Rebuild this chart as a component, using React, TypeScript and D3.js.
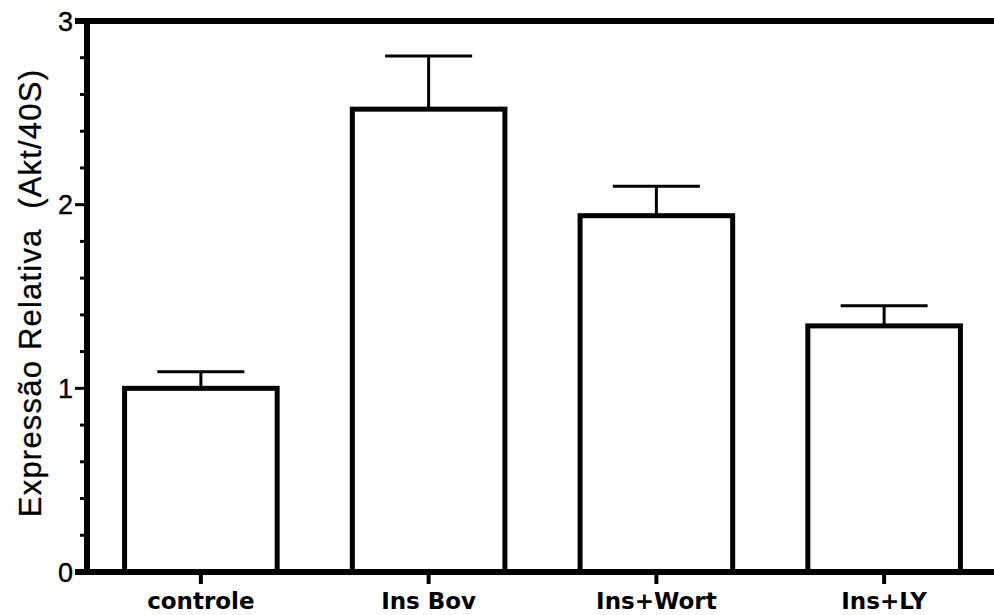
import * as d3 from 'd3'
import { useEffect, useRef } from 'react'

const groups = ['controle', 'Ins Bov', 'Ins+Wort', 'Ins+LY']
const means = [1.0, 2.52, 1.94, 1.34]
const errors = [0.09, 0.29, 0.16, 0.11]
const yTicks = [0, 1, 2, 3]

const App = () => {
  const svgRef = useRef<SVGSVGElement>(null)

  useEffect(() => {
    const width = 994
    const height = 615
    const margin = { top: 21, right: -4, bottom: 43, left: 87 }

    const svg = d3.select(svgRef.current)
    svg.selectAll('*').remove()

    const x = d3.scaleBand()
      .domain(groups)
      .range([margin.left, width - margin.right])
      .paddingInner(0.33)
      .paddingOuter(0.165)

    const y = d3.scaleLinear()
      .domain([0, 3])
      .range([height - margin.bottom, margin.top])

    const font = 'Arial, "Liberation Sans", sans-serif'

    // top frame line
    svg.append('line')
      .attr('x1', margin.left - 12).attr('x2', width)
      .attr('y1', y(3)).attr('y2', y(3))
      .attr('stroke', '#000').attr('stroke-width', 6)

    // bars
    const data = groups.map((g, i) => ({ g, m: means[i], e: errors[i] }))
    const capW = x.bandwidth() * 0.57

    svg.selectAll('.err')
      .data(data)
      .join('line')
      .attr('class', 'err')
      .attr('x1', d => x(d.g)! + x.bandwidth() / 2)
      .attr('x2', d => x(d.g)! + x.bandwidth() / 2)
      .attr('y1', d => y(d.m))
      .attr('y2', d => y(d.m + d.e))
      .attr('stroke', '#000').attr('stroke-width', 3)

    svg.selectAll('.cap')
      .data(data)
      .join('line')
      .attr('class', 'cap')
      .attr('x1', d => x(d.g)! + x.bandwidth() / 2 - capW / 2)
      .attr('x2', d => x(d.g)! + x.bandwidth() / 2 + capW / 2)
      .attr('y1', d => y(d.m + d.e))
      .attr('y2', d => y(d.m + d.e))
      .attr('stroke', '#000').attr('stroke-width', 3)

    svg.selectAll('.bar')
      .data(data)
      .join('rect')
      .attr('class', 'bar')
      .attr('x', d => x(d.g)!)
      .attr('y', d => y(d.m))
      .attr('width', x.bandwidth())
      .attr('height', d => y(0) - y(d.m))
      .attr('fill', '#fff')
      .attr('stroke', '#000')
      .attr('stroke-width', 5)

    // y axis
    const yAxis = svg.append('g')
    yAxis.append('line')
      .attr('x1', margin.left).attr('x2', margin.left)
      .attr('y1', y(3) - 3).attr('y2', y(0) + 3)
      .attr('stroke', '#000').attr('stroke-width', 6)

    const minor = d3.range(0, 3.001, 0.2).filter(v => Math.abs(v - Math.round(v)) > 0.01)
    yAxis.selectAll('.minor')
      .data(minor)
      .join('line')
      .attr('x1', margin.left - 7).attr('x2', margin.left)
      .attr('y1', d => y(d)).attr('y2', d => y(d))
      .attr('stroke', '#000').attr('stroke-width', 3)

    yAxis.selectAll('.major')
      .data(yTicks)
      .join('line')
      .attr('x1', margin.left - 12).attr('x2', margin.left)
      .attr('y1', d => y(d)).attr('y2', d => y(d))
      .attr('stroke', '#000').attr('stroke-width', 3)

    yAxis.selectAll('text')
      .data(yTicks)
      .join('text')
      .attr('x', margin.left - 14)
      .attr('y', d => y(d))
      .attr('dy', '0.36em')
      .attr('text-anchor', 'end')
      .attr('font-family', font)
      .attr('font-size', 27)
      .attr('stroke', '#000').attr('stroke-width', 0.4)
      .text(d => d)

    svg.append('text')
      .attr('transform', `translate(41, 293) rotate(-90)`)
      .attr('text-anchor', 'middle')
      .attr('font-family', font)
      .attr('font-size', 31)
      .attr('letter-spacing', 1.2)
      .attr('stroke', '#000').attr('stroke-width', 0.3)
      .style('white-space', 'pre')
      .text('Expressão Relativa  (Akt/40S)')

    // x axis
    svg.append('line')
      .attr('x1', margin.left - 12).attr('x2', width)
      .attr('y1', y(0)).attr('y2', y(0))
      .attr('stroke', '#000').attr('stroke-width', 6)

    svg.selectAll('.xtick')
      .data(groups)
      .join('line')
      .attr('class', 'xtick')
      .attr('x1', d => x(d)! + x.bandwidth() / 2)
      .attr('x2', d => x(d)! + x.bandwidth() / 2)
      .attr('y1', y(0)).attr('y2', y(0) + 12)
      .attr('stroke', '#000').attr('stroke-width', 4)

    svg.selectAll('.xlabel')
      .data(groups)
      .join('text')
      .attr('class', 'xlabel')
      .attr('x', d => x(d)! + x.bandwidth() / 2)
      .attr('y', 609)
      .attr('text-anchor', 'middle')
      .attr('font-family', 'Verdana, "DejaVu Sans", sans-serif')
      .attr('font-weight', 'bold')
      .attr('font-size', 23)
      .text(d => d)
  }, [])

  return (
    <svg ref={svgRef} width={994} height={615}
      style={{ position: 'absolute', left: 0, top: 0, background: '#fff' }} />
  )
}

export default App
